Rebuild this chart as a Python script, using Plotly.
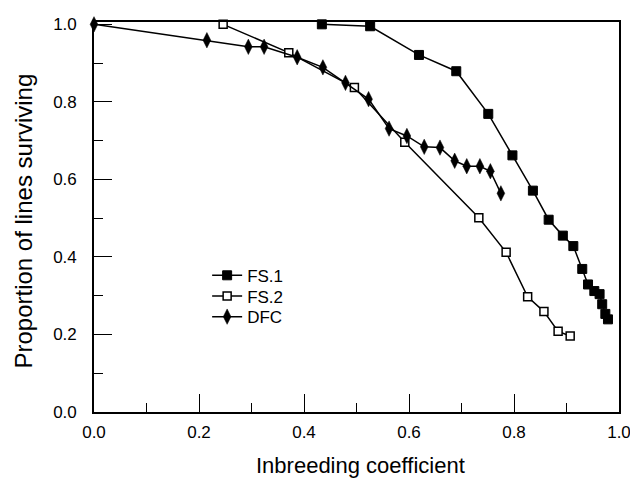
import plotly.graph_objects as go

# ---- data ----
fs1_x = [0.434, 0.526, 0.619, 0.690, 0.751, 0.797, 0.836, 0.866, 0.893, 0.913,
         0.930, 0.941, 0.953, 0.963, 0.968, 0.974, 0.979]
fs1_y = [1.0, 0.995, 0.921, 0.879, 0.769, 0.662, 0.571, 0.496, 0.455, 0.428,
         0.369, 0.329, 0.312, 0.304, 0.278, 0.253, 0.239]

fs2_x = [0.246, 0.371, 0.496, 0.592, 0.733, 0.785, 0.826, 0.857, 0.884, 0.907]
fs2_y = [1.0, 0.927, 0.837, 0.696, 0.501, 0.412, 0.297, 0.259, 0.208, 0.196]

dfc_x = [0.0, 0.215, 0.294, 0.324, 0.387, 0.436, 0.479, 0.523, 0.562, 0.596,
         0.629, 0.659, 0.687, 0.710, 0.735, 0.755, 0.775]
dfc_y = [1.0, 0.959, 0.942, 0.942, 0.915, 0.889, 0.849, 0.807, 0.731, 0.712,
         0.684, 0.682, 0.648, 0.634, 0.634, 0.621, 0.564]

series_names = ["FS.1", "FS.2", "DFC"]
x_title = "Inbreeding coefficient"
y_title = "Proportion of lines surviving"

FONT = "Liberation Sans, Arial, Helvetica, sans-serif"
INK = "#000000"

fig = go.Figure()
fig.add_trace(go.Scatter(
    x=fs1_x, y=fs1_y, name=series_names[0], mode="lines+markers",
    line=dict(color=INK, width=1.5),
    marker=dict(symbol="square", size=9, color=INK, line=dict(color=INK, width=1)),
    cliponaxis=False, legend="legend"))
fig.add_trace(go.Scatter(
    x=fs2_x, y=fs2_y, name=series_names[1], mode="lines+markers",
    line=dict(color=INK, width=1.5),
    marker=dict(symbol="square", size=8, color="white", line=dict(color=INK, width=1.5)),
    cliponaxis=False, legend="legend2"))
fig.add_trace(go.Scatter(
    x=dfc_x, y=dfc_y, name=series_names[2], mode="lines+markers",
    line=dict(color=INK, width=1.5),
    marker=dict(symbol="diamond-tall", size=11, color=INK, line=dict(color=INK, width=0.5)),
    cliponaxis=False, legend="legend3"))

axis_common = dict(
    showgrid=False, zeroline=False, showline=True, linecolor=INK, linewidth=1.6,
    mirror=True, ticks="inside", ticklen=18, tickwidth=1.3, tickcolor=INK,
    tickmode="linear", tick0=0, dtick=0.2, tickformat=".1f",
    tickfont=dict(family=FONT, size=17, color=INK),
    minor=dict(ticks="inside", ticklen=9, tickwidth=1.3, tickcolor=INK,
               tickmode="linear", tick0=0, dtick=0.1),
)

fig.update_xaxes(range=[0, 1.0], ticklabelstandoff=4, **axis_common)
fig.update_yaxes(range=[0, 1.006], ticklabelstandoff=12, **axis_common)

# axis titles as annotations so they sit exactly where the reference has them
fig.add_annotation(text=x_title, xref="paper", yref="paper", x=0.508, y=-0.137,
                   xanchor="center", yanchor="middle", showarrow=False,
                   font=dict(family=FONT, size=22, color=INK))
fig.add_annotation(text=y_title, xref="paper", yref="paper", x=-0.134, y=0.490,
                   xanchor="center", yanchor="middle", showarrow=False, textangle=-90,
                   font=dict(family=FONT, size=24, color=INK))

legend_common = dict(x=0.2155, xanchor="left", yanchor="top",
                     font=dict(family=FONT, size=17, color=INK),
                     bgcolor="rgba(0,0,0,0)", borderwidth=0, itemwidth=30)

# the page body keeps its default 8px margin, so the figure is sized to sit
# at the reference position inside the 638x479 window
fig.update_layout(
    width=630, height=471,
    margin=dict(l=86, r=16, t=7, b=67),
    paper_bgcolor="white", plot_bgcolor="white",
    font=dict(family=FONT, color=INK),
    showlegend=True,
    legend=dict(y=0.3955, **legend_common),
    legend2=dict(y=0.3424, **legend_common),
    legend3=dict(y=0.2895, **legend_common),
)

fig.write_html("out.html")
